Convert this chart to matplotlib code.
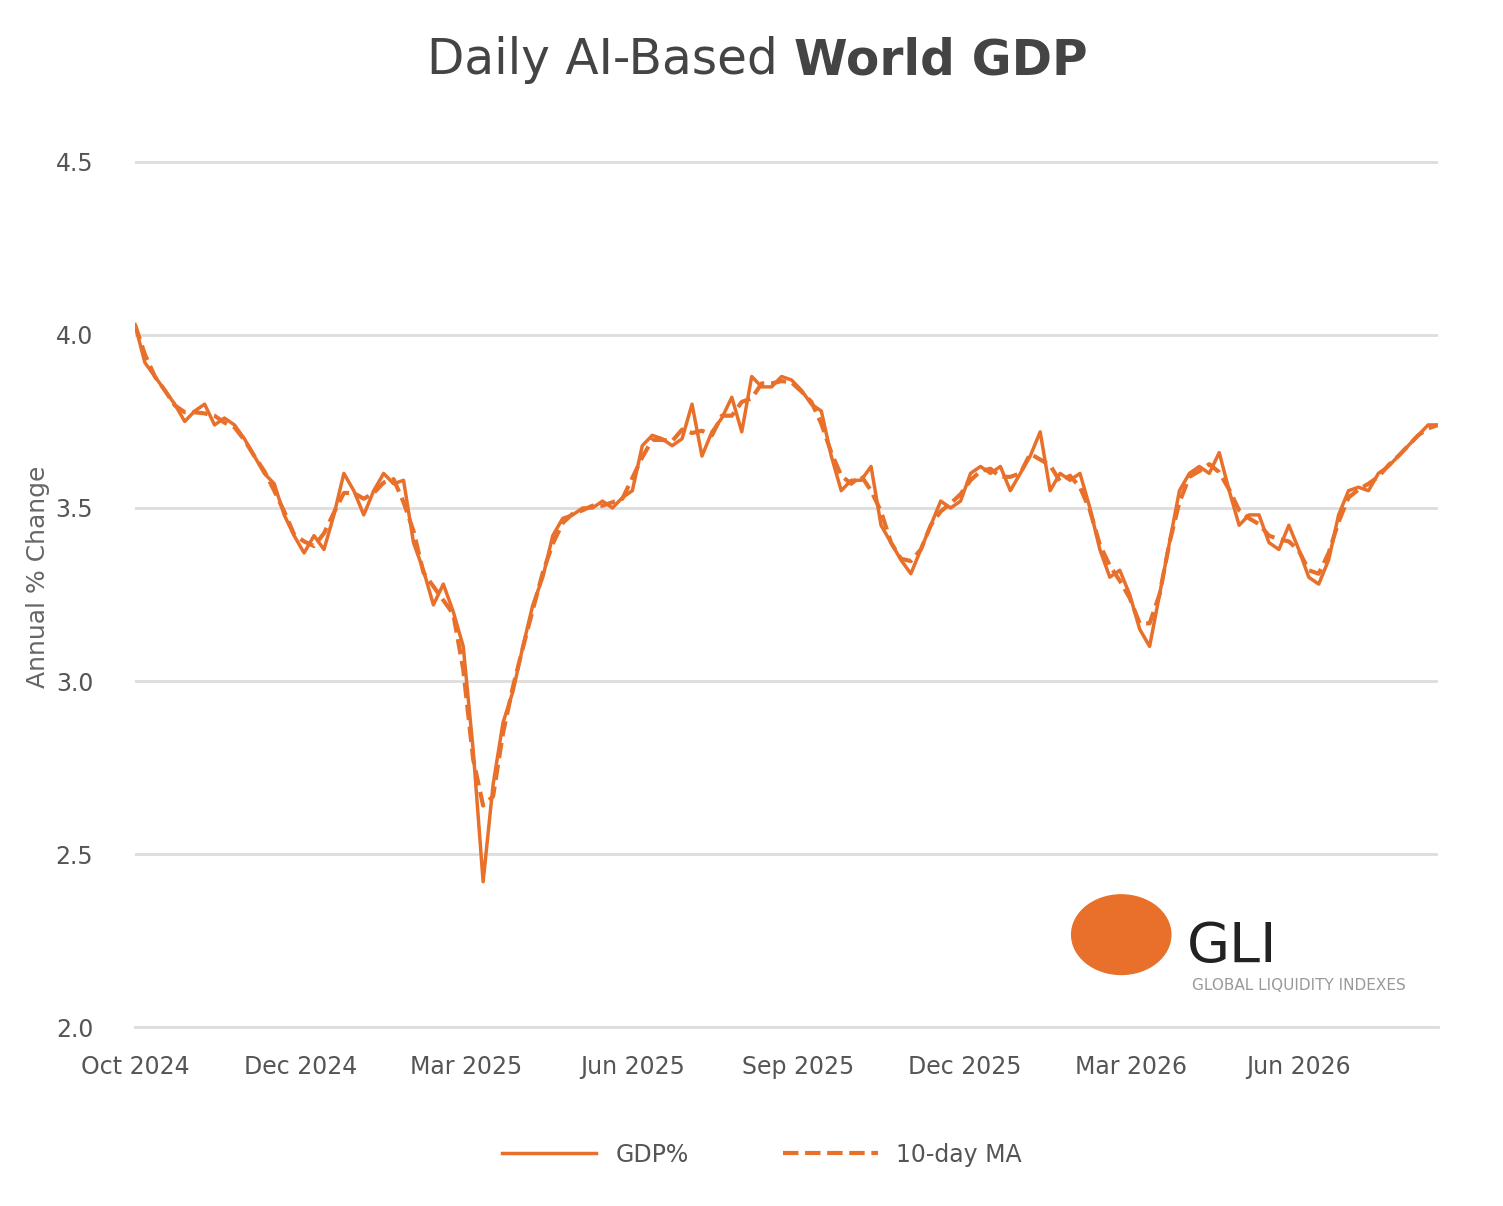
import matplotlib.pyplot as plt
import numpy as np
from matplotlib.patches import Circle

gdp = [4.03, 3.92, 3.88, 3.84, 3.80, 3.75, 3.78, 3.80, 3.74, 3.76, 3.74, 3.70, 3.65, 3.60, 3.57,
       3.48, 3.42, 3.37, 3.42, 3.38, 3.48, 3.60, 3.55, 3.48, 3.55, 3.60, 3.57, 3.58, 3.40, 3.32,
       3.22, 3.28, 3.20, 3.10, 2.80, 2.42, 2.70, 2.88, 2.97, 3.10, 3.22, 3.30, 3.42, 3.47, 3.48,
       3.50, 3.50, 3.52, 3.50, 3.53, 3.55, 3.68, 3.71, 3.70, 3.68, 3.70, 3.80, 3.65, 3.72, 3.76,
       3.82, 3.72, 3.88, 3.85, 3.85, 3.88, 3.87, 3.84, 3.80, 3.78, 3.65, 3.55, 3.58, 3.58, 3.62,
       3.45, 3.40, 3.35, 3.31, 3.38, 3.45, 3.52, 3.50, 3.52, 3.60, 3.62, 3.60, 3.62, 3.55, 3.60,
       3.65, 3.72, 3.55, 3.60, 3.58, 3.60, 3.50, 3.38, 3.30, 3.32, 3.25, 3.15, 3.10, 3.25, 3.40,
       3.55, 3.60, 3.62, 3.60, 3.66, 3.55, 3.45, 3.48, 3.48, 3.40, 3.38, 3.45, 3.38, 3.30, 3.28,
       3.35, 3.48, 3.55, 3.56, 3.55, 3.60, 3.62, 3.65, 3.68, 3.71, 3.74, 3.74]
tick_labels = ["Oct 2024", "Dec 2024", "Mar 2025", "Jun 2025", "Sep 2025", "Dec 2025", "Mar 2026", "Jun 2026"]
tick_pos = [0, 16.7, 33.3, 50.0, 66.7, 83.4, 100.1, 117.0]

x = np.arange(len(gdp))
ma = np.convolve(gdp, np.ones(3) / 3, mode="same")
ma[0], ma[-1] = gdp[0], gdp[-1]

orange = "#e8702a"
fig = plt.figure(figsize=(15.03, 12.06), dpi=100)
ax = fig.add_axes([0.0898, 0.1484, 0.867, 0.746])
ax.plot(x, gdp, color=orange, lw=2.5, label="GDP%")
ax.plot(x, ma, color=orange, lw=3, ls="--", label="10-day MA")
ax.set_xlim(0, len(gdp) - 1)
ax.set_ylim(2.0, 4.6)
ax.set_yticks([2.0, 2.5, 3.0, 3.5, 4.0, 4.5])
ax.set_yticklabels(["2.0", "2.5", "3.0", "3.5", "4.0", "4.5"])
ax.set_xticks(tick_pos)
ax.set_xticklabels(tick_labels)
ax.tick_params(labelsize=17, colors="#555555", length=0, pad=20)
ax.tick_params(axis="y", pad=30)
ax.grid(axis="y", color="#dddddd", lw=2)
for s in ["top", "right", "left"]:
    ax.spines[s].set_visible(False)
ax.spines["bottom"].set_color("#dddddd")
ax.spines["bottom"].set_linewidth(2)
ax.set_ylabel("Annual % Change", fontsize=18, color="#666666")

fig.text(0.528, 0.95, "Daily AI-Based ", fontsize=35, color="#444444", ha="right", va="center")
fig.text(0.528, 0.95, "World GDP", fontsize=35, color="#444444", ha="left", va="center", fontweight="bold")

fig.legend(loc="lower center", bbox_to_anchor=(0.507, 0.015), ncol=2, frameon=False,
           fontsize=17, handlelength=4, columnspacing=4, labelcolor="#555555")

# logo
fig.patches.append(Circle((0.746, 0.225), 0.033, transform=fig.transFigure, color=orange))
fig.text(0.79, 0.215, "GLI", fontsize=40, color="#222222", va="center")
fig.text(0.793, 0.183, "GLOBAL LIQUIDITY INDEXES", fontsize=11, color="#999999", va="center")

fig.savefig("out.png")
